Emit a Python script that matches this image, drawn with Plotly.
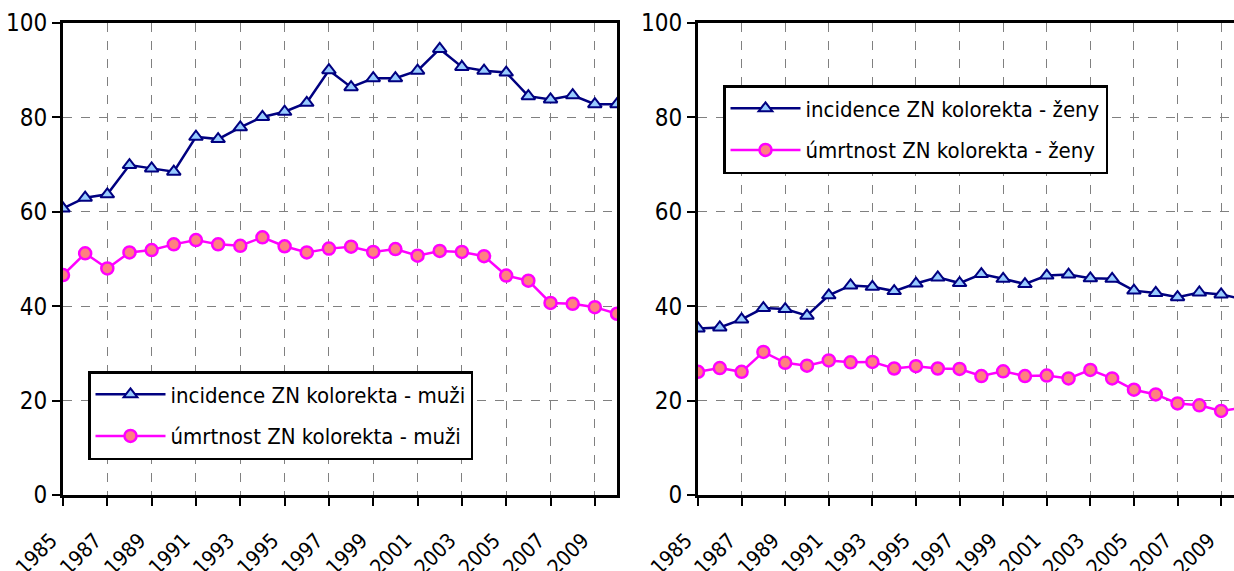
import plotly.graph_objects as go

years = list(range(1985, 2011))

inc_muzi = [60.7, 63.0, 63.7, 69.9, 69.2, 68.5, 75.9, 75.4, 77.9, 80.1, 81.2, 83.1, 90.0,
            86.4, 88.3, 88.3, 89.9, 94.5, 90.7, 89.9, 89.5, 84.5, 83.8, 84.7, 82.8, 82.8]
umr_muzi = [46.6, 51.2, 48.0, 51.4, 51.9, 53.1, 54.0, 53.1, 52.8, 54.6, 52.7, 51.4, 52.2,
            52.6, 51.5, 52.1, 50.7, 51.7, 51.5, 50.6, 46.5, 45.4, 40.7, 40.5, 39.8, 38.4]
inc_zeny = [35.3, 35.5, 37.2, 39.6, 39.4, 38.0, 42.3, 44.4, 44.1, 43.2, 44.8, 46.1, 44.9,
            46.8, 45.8, 44.7, 46.5, 46.7, 45.9, 45.8, 43.3, 42.8, 41.9, 42.9, 42.5, 41.5]
umr_zeny = [26.1, 26.9, 26.1, 30.3, 28.0, 27.4, 28.5, 28.1, 28.2, 26.8, 27.3, 26.8, 26.7,
            25.2, 26.2, 25.2, 25.3, 24.7, 26.5, 24.7, 22.3, 21.3, 19.4, 19.0, 17.8, 18.5]

names = ["incidence ZN kolorekta - muži", "úmrtnost ZN kolorekta - muži",
         "incidence ZN kolorekta - ženy", "úmrtnost ZN kolorekta - ženy"]
x_ticks = list(range(1985, 2010, 2))
y_ticks = [0, 20, 40, 60, 80, 100]

FONT = "DejaVu Sans Condensed, Liberation Sans Narrow, Liberation Sans, Arial, sans-serif"
NAVY = "#000080"
MAG = "#FF00FF"

inc_style = dict(mode="lines+markers", line=dict(color=NAVY, width=2.5),
                 marker=dict(symbol="triangle-up", size=12, color="#99CCFF",
                             line=dict(color=NAVY, width=2)))
umr_style = dict(mode="lines+markers", line=dict(color=MAG, width=2.5),
                 marker=dict(symbol="circle", size=12, color="#FF8080",
                             line=dict(color=MAG, width=2.5)))

fig = go.Figure()
fig.add_trace(go.Scatter(x=years, y=inc_muzi, name=names[0], xaxis="x", yaxis="y",
                         legend="legend", legendgroup="a", **inc_style))
fig.add_trace(go.Scatter(x=years, y=umr_muzi, name=names[1], xaxis="x", yaxis="y",
                         legend="legend", legendgroup="b", **umr_style))
fig.add_trace(go.Scatter(x=years, y=inc_zeny, name=names[2], xaxis="x2", yaxis="y2",
                         legend="legend2", legendgroup="c", **inc_style))
fig.add_trace(go.Scatter(x=years, y=umr_zeny, name=names[3], xaxis="x2", yaxis="y2",
                         legend="legend2", legendgroup="d", **umr_style))

W, H = 1234, 571
ydom = [1 - 495 / H, 1 - 23 / H]

xcommon = dict(tickmode="array", tickvals=x_ticks, ticktext=[str(t) for t in x_ticks],
               tickangle=-45, ticks="outside", ticklen=8, tickwidth=2, tickcolor="black",
               ticklabelstandoff=14, ticklabelshift=-12,
               showline=True, linecolor="black", linewidth=3, mirror=True,
               showgrid=True, gridcolor="#808080", griddash="dash", gridwidth=1,
               tickfont=dict(family=FONT, size=21, color="black"), zeroline=False,
               automargin=False)
ycommon = dict(range=[0, 100], tickvals=y_ticks, ticks="outside", ticklen=8, tickwidth=2,
               tickcolor="black", showline=True, linecolor="black", linewidth=3, mirror=True,
               showgrid=True, gridcolor="#808080", griddash="dash", gridwidth=1,
               tickfont=dict(family=FONT, size=24, color="black"), zeroline=False,
               automargin=False)

legcommon = dict(bgcolor="white", bordercolor="black", borderwidth=2.5,
                 font=dict(family=FONT, size=22, color="black"), itemwidth=70,
                 xanchor="left", yanchor="top", tracegroupgap=10, traceorder="grouped")

fig.update_layout(
    width=W, height=H,
    margin=dict(l=0, r=0, t=0, b=0),
    paper_bgcolor="white", plot_bgcolor="white",
    xaxis=dict(domain=[63 / W, 617 / W], range=[1985, 2010], anchor="y", **xcommon),
    yaxis=dict(domain=ydom, anchor="x", **ycommon),
    xaxis2=dict(domain=[698 / W, 1.0], range=[1985, 2009.59], anchor="y2", **xcommon),
    yaxis2=dict(domain=ydom, anchor="x2", **ycommon),
    legend=dict(x=88 / W, y=1 - 371 / H, **legcommon),
    legend2=dict(x=723 / W, y=1 - 85 / H, **legcommon),
    showlegend=True,
)

fig.write_html("out.html", config={"displayModeBar": False},
               post_script="document.body.style.margin='0';document.body.style.overflow='hidden';")
